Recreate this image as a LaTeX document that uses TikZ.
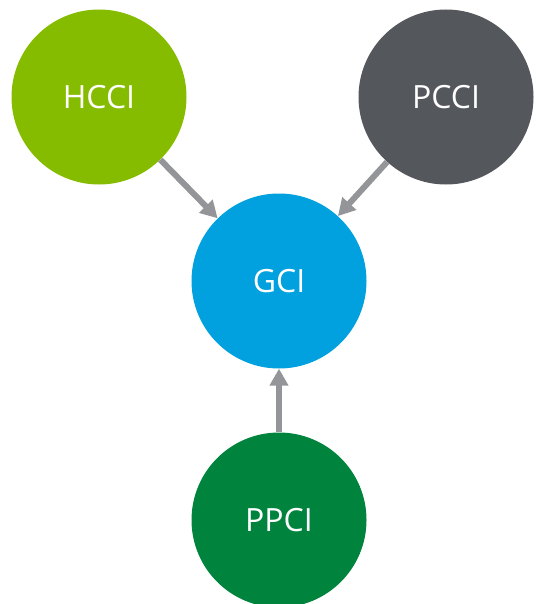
\documentclass[tikz,border=0pt]{standalone}
\usepackage{fontspec}
\setmainfont{Open Sans}
\usetikzlibrary{arrows.meta}
\definecolor{hccic}{HTML}{86BC00}
\definecolor{pccic}{HTML}{54575C}
\definecolor{gcic}{HTML}{00A1DE}
\definecolor{ppcic}{HTML}{00843D}
\definecolor{arrowc}{HTML}{939598}
\begin{document}
\begin{tikzpicture}[x=1pt,y=-1pt,
  bubble/.style={circle,minimum size=175pt,inner sep=0pt,text=white,font=\fontsize{32}{36}\selectfont},
  conn/.style={draw=arrowc,line width=6pt,-{Triangle[length=17pt,width=18pt]}}]
\useasboundingbox (0,0) rectangle (535,604);
\node[bubble,fill=hccic] (hcci) at (99,97) {HCCI};
\node[bubble,fill=pccic] (pcci) at (446,97) {PCCI};
\node[bubble,fill=gcic] (gci) at (279,281) {GCI};
\node[bubble,fill=ppcic] (ppci) at (279,520) {PPCI};
\draw[conn] (hcci) -- (gci);
\draw[conn] (pcci) -- (gci);
\draw[conn] (ppci) -- (gci);
\end{tikzpicture}
\end{document}
